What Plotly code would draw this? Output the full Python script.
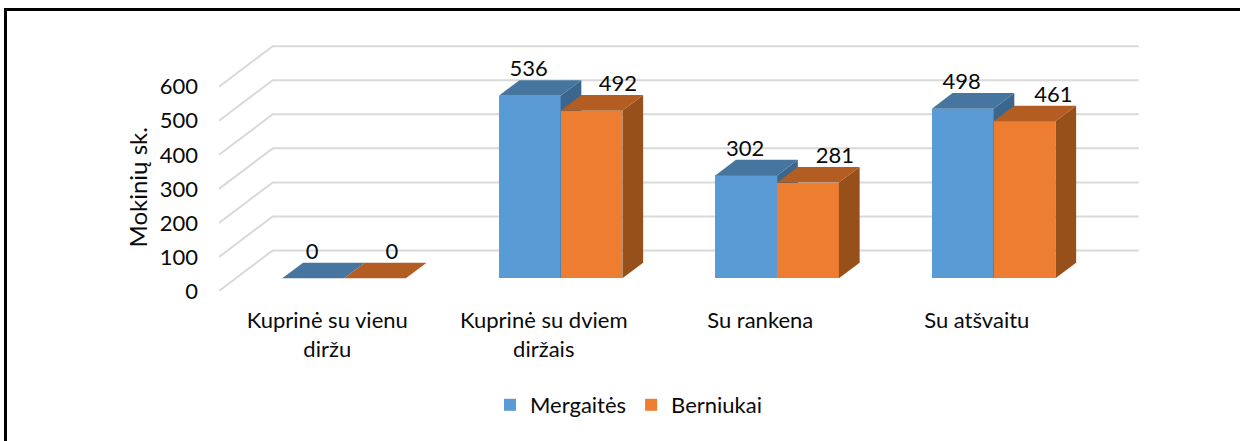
import plotly.graph_objects as go

# ---- data ----
categories = ["Kuprinė su vienu<br>diržu", "Kuprinė su dviem<br>diržais", "Su rankena", "Su atšvaitu"]
girls = [0, 536, 302, 498]
boys = [0, 492, 281, 461]
y_ticks = [0, 100, 200, 300, 400, 500, 600]

# ---- styles ----
BLUE, BLUE_TOP, BLUE_SIDE = "#5B9BD5", "#46759F", "#3B668D"
ORANGE, ORANGE_TOP, ORANGE_SIDE = "#ED7D31", "#B35D22", "#98501B"
GRID = "#D9D9D9"
FONT = "Lato"
TEXT = "#0A0A0A"
SIZE = 22

# ---- pseudo-3D projection (pixels of the picture -> axis units) ----
W, H = 1240, 441
PLOT_L, PLOT_R, PLOT_T, PLOT_B = 219, 1139, 40, 291
PX_PER_VALUE = 0.3405
CAT_PX = 216.5
DEPTH_X_PX, DEPTH_Y_PX = 53.7, 40.5
X_MIN = -0.5
X_MAX = X_MIN + (PLOT_R - PLOT_L) / CAT_PX
Y_MAX = (PLOT_B - PLOT_T) / PX_PER_VALUE
BAR_W = 61.8 / CAT_PX
D_FRONT, D_BACK = 0.3136, 0.70


def px(x_cat, value, depth):
    """Project category position, value and wall depth onto the axes."""
    return (x_cat + depth * DEPTH_X_PX / CAT_PX, value + depth * DEPTH_Y_PX / PX_PER_VALUE)


def polygon(points):
    xs, ys = zip(*[px(*p) for p in points])
    return list(xs) + [xs[0]], list(ys) + [ys[0]]


fig = go.Figure()

# back wall + left wall gridlines
gx, gy = [], []
for v in y_ticks:
    a = px(X_MIN, v, 0)
    b = px(X_MIN, v, 1)
    c = px(X_MIN + 4, v, 1)
    gx += [a[0], b[0], c[0], None]
    gy += [a[1], b[1], c[1], None]
fig.add_trace(go.Scatter(x=gx, y=gy, mode="lines", line=dict(color=GRID, width=2),
                         hoverinfo="skip", showlegend=False, xaxis="x", yaxis="y"))


def add_series(name, values, side, colors, axis, label_shift):
    main, top_c, side_c = colors
    xa, ya = axis
    # left edge of each bar: blue occupies [-W, 0], orange [0, W] around the category centre
    left = [i - BAR_W if side == 0 else i for i in range(len(values))]
    fx = [px(l + BAR_W / 2, 0, D_FRONT)[0] for l in left]
    base = [px(0, 0, D_FRONT)[1]] * len(values)
    fig.add_trace(go.Bar(x=fx, y=values, base=base, width=BAR_W, name=name,
                         marker=dict(color=main, line=dict(width=0)), xaxis=xa, yaxis=ya,
                         hoverinfo="skip"))
    for l, v in zip(left, values):
        r = l + BAR_W
        sx, sy = polygon([(r, 0, D_FRONT), (r, 0, D_BACK), (r, v, D_BACK), (r, v, D_FRONT)])
        fig.add_trace(go.Scatter(x=sx, y=sy, mode="lines", fill="toself", fillcolor=side_c,
                                 line=dict(width=0, color=side_c), hoverinfo="skip",
                                 showlegend=False, xaxis=xa, yaxis=ya))
        tx, ty = polygon([(l, v, D_FRONT), (r, v, D_FRONT), (r, v, D_BACK), (l, v, D_BACK)])
        fig.add_trace(go.Scatter(x=tx, y=ty, mode="lines", fill="toself", fillcolor=top_c,
                                 line=dict(width=0, color=top_c), hoverinfo="skip",
                                 showlegend=False, xaxis=xa, yaxis=ya))
    lx, ly = [], []
    for l, v, s in zip(left, values, label_shift):
        p = px(l + BAR_W / 2 + s / CAT_PX, v + 25 / PX_PER_VALUE, D_FRONT)
        lx.append(p[0])
        ly.append(p[1])
    fig.add_trace(go.Scatter(x=lx, y=ly, mode="text", text=[str(v) for v in values],
                             textposition="middle center", cliponaxis=False,
                             textfont=dict(family=FONT, size=SIZE, color=TEXT),
                             hoverinfo="skip", showlegend=False, xaxis=xa, yaxis=ya))


add_series("Mergaitės", girls, 0, (BLUE, BLUE_TOP, BLUE_SIDE), ("x2", "y2"), [-1, -1, -1, -1])
add_series("Berniukai", boys, 1, (ORANGE, ORANGE_TOP, ORANGE_SIDE), ("x3", "y3"), [17, 26.5, 27, 29])

hidden = dict(visible=False, fixedrange=True)
fig.update_layout(
    width=W, height=H, autosize=False,
    margin=dict(l=PLOT_L, r=W - PLOT_R, t=PLOT_T, b=H - PLOT_B, pad=0),
    paper_bgcolor="white", plot_bgcolor="rgba(0,0,0,0)",
    barmode="overlay", bargap=0,
    font=dict(family=FONT, size=SIZE, color=TEXT),
    xaxis=dict(range=[X_MIN, X_MAX], tickmode="array", tickvals=list(range(len(categories))),
               ticktext=categories, showgrid=False, zeroline=False, showline=False,
               ticks="", tickfont=dict(family=FONT, size=SIZE, color=TEXT), ticklabelstandoff=14, fixedrange=True),
    yaxis=dict(range=[0, Y_MAX], tickmode="array", tickvals=y_ticks, showgrid=False,
               zeroline=False, showline=False, ticks="", ticklabelstandoff=20,
               tickfont=dict(family=FONT, size=SIZE, color=TEXT), fixedrange=True),
    xaxis2=dict(overlaying="x", matches="x", **hidden),
    yaxis2=dict(overlaying="y", matches="y", **hidden),
    xaxis3=dict(overlaying="x", matches="x", **hidden),
    yaxis3=dict(overlaying="y", matches="y", **hidden),
    legend=dict(orientation="h", x=(490 - PLOT_L) / (PLOT_R - PLOT_L), xanchor="left",
                y=(PLOT_B - 405) / (PLOT_B - PLOT_T), yanchor="middle",
                font=dict(family=FONT, size=SIZE, color=TEXT), bgcolor="rgba(0,0,0,0)"),
    annotations=[dict(text="Mokinių sk.", textangle=-90, showarrow=False,
                      xref="paper", yref="paper",
                      x=(137 - PLOT_L) / (PLOT_R - PLOT_L), y=(PLOT_B - 187.5) / (PLOT_B - PLOT_T),
                      xanchor="center", yanchor="middle",
                      font=dict(family=FONT, size=24, color=TEXT))],
    shapes=[dict(type="rect", xref="paper", yref="paper", layer="above",
                 x0=(5.5 - PLOT_L) / (PLOT_R - PLOT_L), x1=(1260 - PLOT_L) / (PLOT_R - PLOT_L),
                 y0=(PLOT_B - 460) / (PLOT_B - PLOT_T), y1=(PLOT_B - 9.5) / (PLOT_B - PLOT_T),
                 line=dict(color="black", width=3))],
)
fig.write_html("out.html", config=dict(displayModeBar=False),
               post_script="document.body.style.margin='0';document.documentElement.style.overflow='hidden';")
